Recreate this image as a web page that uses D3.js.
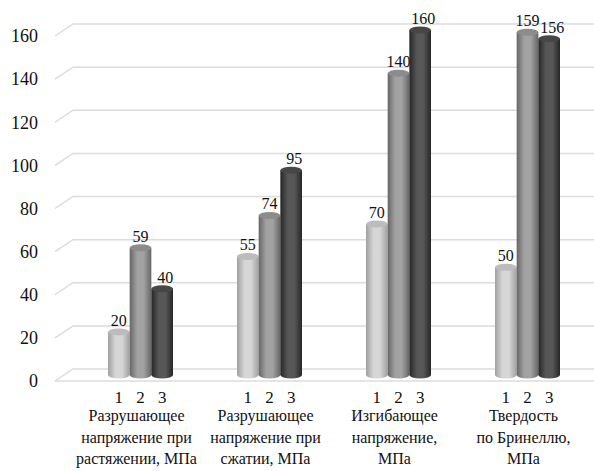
<!DOCTYPE html>
<html>
<head>
<meta charset="utf-8">
<script src="https://cdn.jsdelivr.net/npm/d3@7"></script>
<style>
    body { margin: 0; background: #fff; }
    svg { display: block; }
    svg text { font-family: "Liberation Serif", "Liberation Sans", sans-serif; }
</style>
</head>
<body>
<div id="chart"></div>
<script>
// Chart data
const categories = [
    ["Разрушающее", "напряжение при", "растяжении, МПа"],
    ["Разрушающее", "напряжение при", "сжатии, МПа"],
    ["Изгибающее", "напряжение,", "МПа"],
    ["Твердость", "по Бринеллю,", "МПа"]
];
const seriesNames = ["1", "2", "3"];
const series1 = [20, 55, 70, 50];
const series2 = [59, 74, 140, 159];
const series3 = [40, 95, 160, 156];
const yTicks = [0, 20, 40, 60, 80, 100, 120, 140, 160];

class CylinderChart {
    constructor(element) {
        this.element = element;
        this.initVis();
    }

    initVis() {
        const vis = this;

        vis.width = 594;
        vis.height = 471;
        vis.depthX = 18;

        vis.svg = d3.select("#" + vis.element).append("svg")
            .attr("width", vis.width)
            .attr("height", vis.height);

        // front, middle (bars) and back planes of the 3D box
        vis.yFront = d3.scaleLinear().domain([0, 160]).range([381, 36]);
        vis.yMid = d3.scaleLinear().domain([0, 160]).range([375, 30]);
        vis.yBack = d3.scaleLinear().domain([0, 160]).range([369, 24]);

        vis.x0 = d3.scaleBand()
            .domain(d3.range(categories.length))
            .range([76, 592]);

        vis.x1 = d3.scaleBand()
            .domain(seriesNames)
            .range([-32.5, 32.5]);

        vis.data = categories.map((c, i) => ({
            label: c,
            values: [series1[i], series2[i], series3[i]]
        }));

        vis.updateVis();
    }

    updateVis() {
        const vis = this;
        const left = 55;

        // Gradients for the cylinder shading
        const shades = [
            { edge: "#a0a0a0", light: "#d6d6d6", top: "#bcbcbc" },
            { edge: "#666", light: "#a2a2a2", top: "#8c8c8c" },
            { edge: "#262626", light: "#575757", top: "#474747" }
        ];
        const defs = vis.svg.append("defs");
        shades.forEach((s, i) => {
            const g = defs.append("linearGradient")
                .attr("id", "cyl" + i)
                .attr("x1", "0%").attr("x2", "100%")
                .attr("y1", "0%").attr("y2", "0%");
            g.append("stop").attr("offset", "0%").attr("stop-color", s.edge);
            g.append("stop").attr("offset", "35%").attr("stop-color", s.light);
            g.append("stop").attr("offset", "65%").attr("stop-color", s.light);
            g.append("stop").attr("offset", "100%").attr("stop-color", s.edge);
        });

        // Gridlines (wall + side diagonal)
        vis.svg.append("g")
            .selectAll("path")
            .data(yTicks)
            .enter().append("path")
            .attr("d", d => `M${left},${vis.yFront(d)}L${left + vis.depthX},${vis.yBack(d)}L${vis.width},${vis.yBack(d)}`)
            .attr("fill", "none")
            .attr("stroke", "#dcdcdc")
            .attr("stroke-width", 1.5);

        // Floor front edge
        vis.svg.append("line")
            .attr("x1", left).attr("x2", vis.width)
            .attr("y1", vis.yFront(0)).attr("y2", vis.yFront(0))
            .attr("stroke", "#dcdcdc")
            .attr("stroke-width", 1.5);

        // Y axis labels
        const yAxis = vis.svg.append("g")
            .attr("transform", "translate(40,0)")
            .call(d3.axisLeft(vis.yFront).tickValues(yTicks).tickSize(0).tickPadding(2));
        yAxis.select(".domain").remove();
        yAxis.attr("font-size", 18);
        yAxis.selectAll("text")
            .attr("fill", "#111");

        const groups = vis.svg.selectAll(".group")
            .data(vis.data)
            .enter().append("g")
            .attr("class", "group")
            .attr("transform", (d, i) => `translate(${vis.x0(i) + vis.x0.bandwidth() / 2},0)`);

        const bw = vis.x1.bandwidth();
        const ry = 3.5;
        const bars = groups.selectAll(".bar")
            .data(d => d.values.map((v, j) => ({ v, j })))
            .enter().append("g")
            .attr("class", "bar");

        bars.append("ellipse")
            .attr("cx", d => vis.x1(seriesNames[d.j]) + bw / 2)
            .attr("cy", vis.yMid(0))
            .attr("rx", bw / 2)
            .attr("ry", ry)
            .attr("fill", d => `url(#cyl${d.j})`);

        bars.append("rect")
            .attr("x", d => vis.x1(seriesNames[d.j]))
            .attr("y", d => vis.yMid(d.v))
            .attr("width", bw)
            .attr("height", d => vis.yMid(0) - vis.yMid(d.v))
            .attr("fill", d => `url(#cyl${d.j})`);

        bars.append("ellipse")
            .attr("cx", d => vis.x1(seriesNames[d.j]) + bw / 2)
            .attr("cy", d => vis.yMid(d.v))
            .attr("rx", bw / 2)
            .attr("ry", ry)
            .attr("fill", d => shades[d.j].top);

        // Value labels (last series nudged right so neighbours don't collide)
        bars.append("text")
            .attr("x", d => vis.x1(seriesNames[d.j]) + bw / 2)
            .attr("dx", d => d.j === 2 ? 3 : 0)
            .attr("y", d => vis.yMid(d.v) - 6)
            .attr("text-anchor", "middle")
            .attr("font-size", 16)
            .attr("fill", "#111")
            .text(d => d.v);

        // Series numbers under bars
        groups.selectAll(".num")
            .data(seriesNames)
            .enter().append("text")
            .attr("class", "num")
            .attr("x", d => vis.x1(d) + bw / 2)
            .attr("y", 403)
            .attr("text-anchor", "middle")
            .attr("font-size", 17)
            .attr("fill", "#111")
            .text(d => d);

        // Category labels
        groups.append("text")
            .attr("text-anchor", "middle")
            .attr("font-size", 16)
            .attr("fill", "#111")
            .selectAll("tspan")
            .data(d => d.label)
            .enter().append("tspan")
            .attr("x", -4)
            .attr("y", (d, i) => 421 + i * 21.5)
            .text(d => d);
    }
}

new CylinderChart("chart");
</script>
</body>
</html>
